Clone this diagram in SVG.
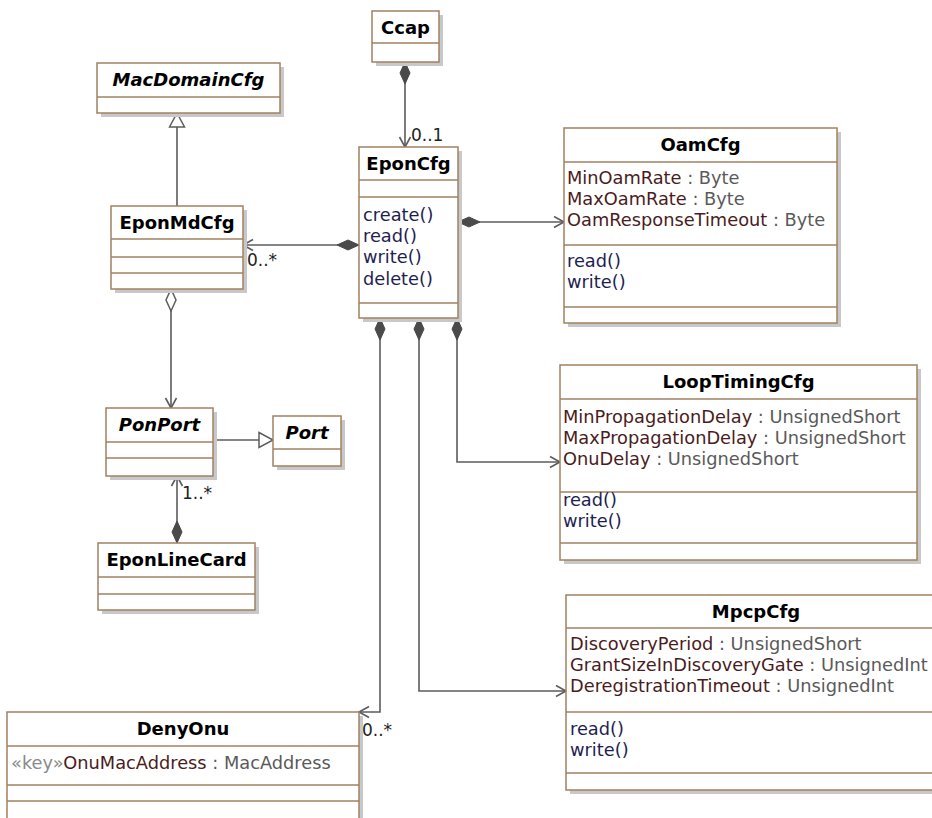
<svg xmlns="http://www.w3.org/2000/svg" width="932" height="818" viewBox="0 0 932 818">
<style>
.sh{fill:#c8c8c8}
.bx{fill:#fff;stroke:#a08062;stroke-width:1.5}
.dv{stroke:#a08062;stroke-width:1.5}
.t{font-family:"DejaVu Sans",Verdana,sans-serif;font-weight:bold;font-size:18px;fill:#000;text-anchor:middle}
.ti{font-style:italic}
.a{font-family:"DejaVu Sans",Verdana,sans-serif;font-size:17.8px;fill:#4a1c1c}
.ty{fill:#5a5a5a}
.st{fill:#8a8a8a}
.op{font-family:"DejaVu Sans",Verdana,sans-serif;font-size:17.8px;fill:#1e1e52}
.m{font-family:"DejaVu Sans",Verdana,sans-serif;font-size:17px;fill:#222}
.c{fill:none;stroke:#5c5c5c;stroke-width:1.6}
</style>
<defs>
<marker id="dia" markerUnits="userSpaceOnUse" markerWidth="24" markerHeight="14" refX="0" refY="0" viewBox="-1 -7 24 14" orient="auto" overflow="visible">
<path d="M0,0 L11,-5 L22,0 L11,5 Z" fill="#4a4a4a" stroke="#4a4a4a" stroke-width="1"/>
</marker>
<marker id="odia" markerUnits="userSpaceOnUse" markerWidth="24" markerHeight="14" refX="0" refY="0" viewBox="-1 -7 24 14" orient="auto" overflow="visible">
<path d="M0,0 L11,-5 L22,0 L11,5 Z" fill="#fff" stroke="#5c5c5c" stroke-width="1.5"/>
</marker>
<marker id="arr" markerUnits="userSpaceOnUse" markerWidth="14" markerHeight="14" refX="0" refY="0" viewBox="-12 -7 14 14" orient="auto" overflow="visible">
<path d="M-10,-5.5 L0,0 L-10,5.5" fill="none" stroke="#5c5c5c" stroke-width="1.6"/>
</marker>
<marker id="tri" markerUnits="userSpaceOnUse" markerWidth="18" markerHeight="18" refX="0" refY="0" viewBox="-16 -9 18 18" orient="auto" overflow="visible">
<path d="M-14,-7.5 L0,0 L-14,7.5 Z" fill="#fff" stroke="#5c5c5c" stroke-width="1.5"/>
</marker>
</defs>

<g id="connectors">
<path class="c" d="M405,62 L405,147" marker-start="url(#dia)" marker-end="url(#arr)"/>
<path class="c" d="M359,245 L243,245" marker-start="url(#dia)" marker-end="url(#arr)"/>
<path class="c" d="M177,206 L177,113" marker-end="url(#tri)"/>
<path class="c" d="M171,289 L171,408" marker-start="url(#odia)" marker-end="url(#arr)"/>
<path class="c" d="M213,440 L273,440" marker-end="url(#tri)"/>
<path class="c" d="M177,543 L177,476" marker-start="url(#dia)" marker-end="url(#arr)"/>
<path class="c" d="M458,222 L564,222" marker-start="url(#dia)" marker-end="url(#arr)"/>
<path class="c" d="M457,318 L457,462 L560,462" marker-start="url(#dia)" marker-end="url(#arr)"/>
<path class="c" d="M419,318 L419,691 L566,691" marker-start="url(#dia)" marker-end="url(#arr)"/>
<path class="c" d="M380,318 L380,712 L359,712" marker-start="url(#dia)" marker-end="url(#arr)"/>
<text class="m" x="411" y="141">0..1</text>
<text class="m" x="247" y="266">0..*</text>
<text class="m" x="182" y="499">1..*</text>
<text class="m" x="362" y="736">0..*</text>
</g>

<g id="Ccap">
<rect class="sh" x="376" y="15" width="67" height="51"/>
<rect class="bx" x="372" y="11" width="67" height="51"/>
<line class="dv" x1="372" y1="43" x2="439" y2="43"/>
<text class="t" x="405.5" y="34">Ccap</text>
</g>

<g id="MacDomainCfg">
<rect class="sh" x="101" y="67" width="183" height="50"/>
<rect class="bx" x="97" y="63" width="183" height="50"/>
<line class="dv" x1="97" y1="97" x2="280" y2="97"/>
<text class="t ti" x="188.5" y="86">MacDomainCfg</text>
</g>

<g id="EponMdCfg">
<rect class="sh" x="115" y="210" width="132" height="83"/>
<rect class="bx" x="111" y="206" width="132" height="83"/>
<line class="dv" x1="111" y1="239" x2="243" y2="239"/>
<line class="dv" x1="111" y1="257" x2="243" y2="257"/>
<line class="dv" x1="111" y1="273" x2="243" y2="273"/>
<text class="t" x="177" y="229">EponMdCfg</text>
</g>

<g id="EponCfg">
<rect class="sh" x="363" y="151" width="99" height="171"/>
<rect class="bx" x="359" y="147" width="99" height="171"/>
<line class="dv" x1="359" y1="180" x2="458" y2="180"/>
<line class="dv" x1="359" y1="197" x2="458" y2="197"/>
<line class="dv" x1="359" y1="303" x2="458" y2="303"/>
<text class="t" x="408.5" y="170">EponCfg</text>
<text class="op" x="363" y="221">create()</text>
<text class="op" x="363" y="242">read()</text>
<text class="op" x="363" y="263">write()</text>
<text class="op" x="363" y="285">delete()</text>
</g>

<g id="OamCfg">
<rect class="sh" x="568" y="132" width="273" height="195"/>
<rect class="bx" x="564" y="128" width="273" height="195"/>
<line class="dv" x1="564" y1="162" x2="837" y2="162"/>
<line class="dv" x1="564" y1="245" x2="837" y2="245"/>
<line class="dv" x1="564" y1="307" x2="837" y2="307"/>
<text class="t" x="700.5" y="151">OamCfg</text>
<text class="a" x="567" y="184">MinOamRate<tspan class="ty"> : Byte</tspan></text>
<text class="a" x="567" y="205">MaxOamRate<tspan class="ty"> : Byte</tspan></text>
<text class="a" x="567" y="226">OamResponseTimeout<tspan class="ty"> : Byte</tspan></text>
<text class="op" x="567" y="267">read()</text>
<text class="op" x="567" y="288">write()</text>
</g>

<g id="LoopTimingCfg">
<rect class="sh" x="564" y="369" width="357" height="195"/>
<rect class="bx" x="560" y="365" width="357" height="195"/>
<line class="dv" x1="560" y1="399" x2="917" y2="399"/>
<line class="dv" x1="560" y1="492" x2="917" y2="492"/>
<line class="dv" x1="560" y1="543" x2="917" y2="543"/>
<text class="t" x="738.5" y="388">LoopTimingCfg</text>
<text class="a" x="563" y="423">MinPropagationDelay<tspan class="ty"> : UnsignedShort</tspan></text>
<text class="a" x="563" y="444">MaxPropagationDelay<tspan class="ty"> : UnsignedShort</tspan></text>
<text class="a" x="563" y="465">OnuDelay<tspan class="ty"> : UnsignedShort</tspan></text>
<text class="op" x="563" y="506">read()</text>
<text class="op" x="563" y="527">write()</text>
</g>

<g id="PonPort">
<rect class="sh" x="110" y="412" width="107" height="68"/>
<rect class="bx" x="106" y="408" width="107" height="68"/>
<line class="dv" x1="106" y1="442" x2="213" y2="442"/>
<line class="dv" x1="106" y1="458" x2="213" y2="458"/>
<text class="t ti" x="159.5" y="431">PonPort</text>
</g>

<g id="Port">
<rect class="sh" x="277" y="420" width="68" height="50"/>
<rect class="bx" x="273" y="416" width="68" height="50"/>
<line class="dv" x1="273" y1="449" x2="341" y2="449"/>
<text class="t ti" x="307" y="439">Port</text>
</g>

<g id="EponLineCard">
<rect class="sh" x="102" y="547" width="157" height="67"/>
<rect class="bx" x="98" y="543" width="157" height="67"/>
<line class="dv" x1="98" y1="577" x2="255" y2="577"/>
<line class="dv" x1="98" y1="594" x2="255" y2="594"/>
<text class="t" x="176.5" y="566">EponLineCard</text>
</g>

<g id="MpcpCfg">
<rect class="sh" x="570" y="599" width="380" height="195"/>
<rect class="bx" x="566" y="595" width="380" height="195"/>
<line class="dv" x1="566" y1="628" x2="946" y2="628"/>
<line class="dv" x1="566" y1="712" x2="946" y2="712"/>
<line class="dv" x1="566" y1="773" x2="946" y2="773"/>
<text class="t" x="756" y="618">MpcpCfg</text>
<text class="a" x="570" y="650">DiscoveryPeriod<tspan class="ty"> : UnsignedShort</tspan></text>
<text class="a" x="570" y="671">GrantSizeInDiscoveryGate<tspan class="ty"> : UnsignedInt</tspan></text>
<text class="a" x="570" y="692">DeregistrationTimeout<tspan class="ty"> : UnsignedInt</tspan></text>
<text class="op" x="570" y="735">read()</text>
<text class="op" x="570" y="756">write()</text>
</g>

<g id="DenyOnu">
<rect class="sh" x="11" y="716" width="352" height="120"/>
<rect class="bx" x="7" y="712" width="352" height="120"/>
<line class="dv" x1="7" y1="746" x2="359" y2="746"/>
<line class="dv" x1="7" y1="785" x2="359" y2="785"/>
<line class="dv" x1="7" y1="801" x2="359" y2="801"/>
<text class="t" x="183" y="735">DenyOnu</text>
<text class="a" x="11" y="769"><tspan class="st">«key»</tspan>OnuMacAddress<tspan class="ty"> : MacAddress</tspan></text>
</g>
</svg>
